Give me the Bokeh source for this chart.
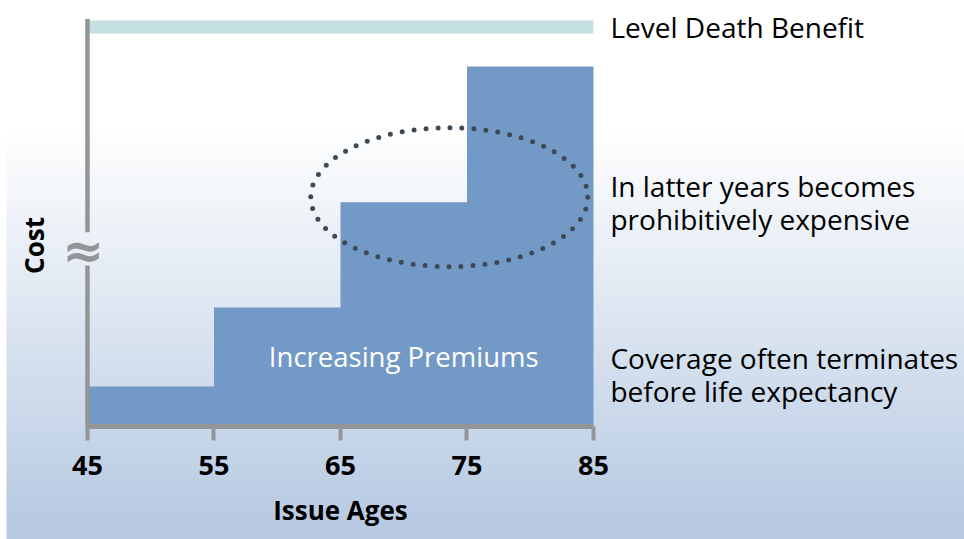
import numpy as np
from bokeh.plotting import figure
from bokeh.models import Range1d, FixedTicker
from bokeh.core.properties import value
from bokeh.embed import file_html
from bokeh.resources import INLINE

# ---- data ----
ages = [45, 55, 65, 75, 85]                 # issue age band edges
premiums = [10.0, 29.8, 56.1, 90.1]         # cost per band (arbitrary units)
death_benefit = 100.0                       # level death benefit
tick_labels = ["45", "55", "65", "75", "85"]
x_label = "Issue Ages"
y_label = "Cost"
bar_label = "Increasing Premiums"
notes = ["Level Death Benefit",
         "In latter years becomes\nprohibitively expensive",
         "Coverage often terminates\nbefore life expectancy"]
note_y = [100.0, 56.1, 13.0]
highlight = dict(x=73.6, y=57.4, w=21.9, h=34.8)   # dotted ellipse around last steps
y_axis_top = 102.0
y_break = (40.3, 48.6)

FONT = "Open Sans"
W, H = 964, 539
x0, x1 = 38.123, 114.33
y0, y1 = -28.29, 106.63

p = figure(width=W, height=H, x_range=Range1d(x0, x1), y_range=Range1d(y0, y1),
           output_backend="svg", toolbar_location=None, min_border=0,
           outline_line_color=None, background_fill_color="white",
           border_fill_color="white")
p.grid.visible = False

# background gradient (white top -> light blue bottom)
rows = np.arange(H)
page_y = H - rows - 0.5
t = np.clip((page_y - 130) / (520 - 130), 0, 1)
top = np.array([255, 255, 255]); bot = np.array([184, 203, 227])
cols = (top[None, :] * (1 - t[:, None]) + bot[None, :] * t[:, None]).astype(np.uint32)
img = np.zeros((H, 1), dtype=np.uint32)
view = img.view(dtype=np.uint8).reshape((H, 1, 4))
view[:, 0, 0] = cols[:, 0]; view[:, 0, 1] = cols[:, 1]; view[:, 0, 2] = cols[:, 2]; view[:, 0, 3] = 255
gx0 = x0 + 6 * (x1 - x0) / W
p.image_rgba(image=[img], x=gx0, y=y0, dw=x1 - gx0, dh=y1 - y0)

# premium steps (one shape, no seams)
p.varea_step(x=ages, y1=[0] * len(ages), y2=premiums + [premiums[-1]],
             step_mode="after", fill_color="#7399c6")

# level death benefit
p.line(x=[ages[0], ages[-1]], y=[death_benefit, death_benefit],
       line_color="#c5e0e1", line_width=13)

# dotted ellipse
p.ellipse(x=[highlight["x"]], y=[highlight["y"]], width=[highlight["w"]], height=[highlight["h"]],
          fill_color=None, line_color="#3d4a56", line_width=5, line_dash="0 12", line_cap="round")

# y axis line with break
p.segment(x0=[ages[0], ages[0]], y0=[0, y_break[1]], x1=[ages[0], ages[0]], y1=[y_break[0], y_axis_top],
          line_color="#939598", line_width=4.5)
p.text(x=[ages[0]], y=[sum(y_break) / 2], text=["≈"], text_color="#939598",
       text_font=value("DejaVu Sans"), text_font_style="bold", text_font_size="50px",
       text_align="center", text_baseline="middle", x_offset=-4, y_offset=2)

# x axis
xa = p.xaxis[0]
xa.fixed_location = 0
xa.bounds = (ages[0], ages[-1])
xa.ticker = FixedTicker(ticks=ages)
xa.major_label_overrides = {a: l for a, l in zip(ages, tick_labels)}
xa.axis_line_color = "#939598"
xa.axis_line_width = 5
xa.major_tick_line_color = "#939598"
xa.major_tick_line_width = 4
xa.major_tick_in = 0
xa.major_tick_out = 14
xa.minor_tick_line_color = None
xa.major_label_text_font = FONT
xa.major_label_text_font_style = "bold"
xa.major_label_text_font_size = "27px"
xa.major_label_text_color = "black"
xa.major_label_standoff = 16
xa.axis_label = x_label
xa.axis_label_text_font = FONT
xa.axis_label_text_font_style = "bold"
xa.axis_label_text_font_size = "26px"
xa.axis_label_text_color = "black"
xa.axis_label_standoff = 13

# y axis (label only)
ya = p.yaxis[0]
ya.fixed_location = ages[0]
ya.bounds = (0, 90.6)
ya.ticker = FixedTicker(ticks=[])
ya.axis_line_color = None
ya.major_tick_line_color = None
ya.minor_tick_line_color = None
ya.axis_label = y_label
ya.axis_label_text_font = FONT
ya.axis_label_text_font_style = "bold"
ya.axis_label_text_font_size = "26px"
ya.axis_label_text_color = "black"
ya.axis_label_standoff = 36

# labels
p.text(x=[(ages[1] + ages[-1]) / 2], y=[premiums[0] + 7.5], text=[bar_label],
       text_color="white", text_font=value(FONT), text_font_size="27.5px",
       text_align="center", text_baseline="middle")
p.text(x=[ages[-1]] * 3, y=note_y, text=notes, x_offset=17,
       text_color="black", text_font=value(FONT), text_font_size="28px",
       text_align="left", text_baseline="middle", text_line_height=0.87)

open("out.html", "w").write(file_html(p, INLINE))
